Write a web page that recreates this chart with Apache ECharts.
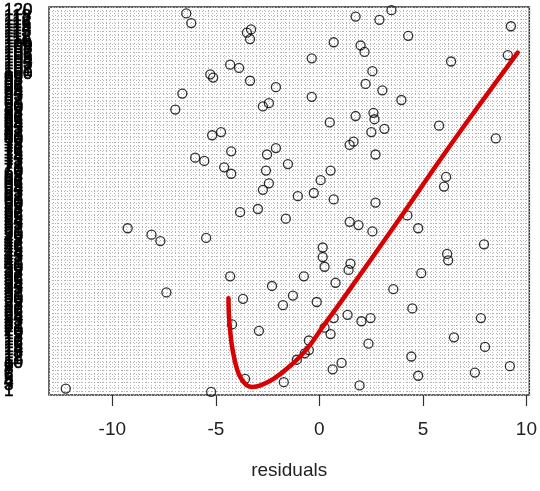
<!DOCTYPE html>
<html>
<head>
<meta charset="utf-8">
<script src="https://cdn.jsdelivr.net/npm/echarts@6/dist/echarts.min.js"></script>
<style>
html,body{margin:0;padding:0;background:#fff;}
#chart{width:540px;height:491px;}
</style>
</head>
<body>
<div id="chart"></div>
<script>
// residual values (x) and observation index (y)
var residuals = [3.48,-6.43,1.75,-6.19,2.90,9.25,-3.30,-3.50,-3.35,4.29,0.69,1.99,2.18,-0.37,9.10,6.36,-4.31,-3.88,-5.27,-5.13,2.56,-3.35,2.23,3.04,-2.10,-6.62,-0.37,-2.44,-2.73,3.96,-6.96,1.75,2.61,2.66,0.50,2.51,3.14,-4.75,-5.18,5.78,8.52,1.46,1.65,-2.10,-4.26,-6.00,-5.56,-2.53,-1.52,2.71,-4.60,-4.26,-2.58,0.54,-2.73,-2.44,0.06,6.12,6.02,-1.04,-0.27,0.69,2.71,-2.97,-3.83,-1.62,4.25,1.46,1.89,-9.26,4.77,2.56,-8.11,-7.68,-5.47,7.95,0.16,0.16,1.50,0.25,1.41,-4.31,-0.75,-2.29,4.92,6.17,6.22,-1.28,-7.39,3.57,-1.76,4.49,-0.13,-4.22,-2.92,1.36,2.47,2.03,0.25,0.54,7.80,6.50,-0.51,-0.71,2.37,-1.09,-0.51,8.00,4.44,1.07,0.64,9.20,-3.59,7.51,-1.72,4.77,1.94,-12.25,-5.23,-3.69,0.69,0.78];
var indexValues = [120,119,118,116,117,115,114,113,111,112,110,109,107,105,106,104,103,102,100,99,101,98,97,95,96,94,93,91,90,92,89,87,88,86,85,82,83,82,81,84,80,78,79,77,76,74,73,75,72,75,71,69,70,70,64,66,67,68,65,62,63,61,60,58,57,55,56,54,53,52,52,51,50,48,49,47,46,43,41,40,39,37,37,34,38,44,42,31,32,33,28,27,29,22,20,25,24,23,21,19,24,18,17,13,16,11,14,15,12,10,8,9,5,7,4,6,3,2,1,30,24,35];
// red smooth curve
var curveX = [-4.39,-4.36,-4.25,-4.09,-3.88,-3.56,-3.24,-2.84,-2.20,-1.39,-0.60,0.21,1.09,3.81,5.74,7.18,9.58];
var curveY = [30.2,23.9,16.5,10.8,6.3,3.3,2.5,3.0,5.1,9.2,14.4,21.7,29.5,54.4,72.5,85.6,106.8];
var xTicks = [-10,-5,0,5,10];
var yLabelValues = [];
for (var i = 1; i <= 120; i++) yLabelValues.push(i);

var pts = residuals.map(function(v, i){ return [v, indexValues[i]]; });
var curve = curveX.map(function(v, i){ return [v, curveY[i]]; });

var gridLine = {show:true, lineStyle:{color:'#b4b4b4', width:1, type:[1,2]}};
var chart = echarts.init(document.getElementById('chart'), null, {renderer:'canvas'});
chart.setOption({
  animation:false,
  backgroundColor:'#fff',
  grid:{left:49, top:7, right:8, bottom:96, show:true, borderColor:'#333', borderWidth:1.5, backgroundColor:'transparent'},
  xAxis:[{
    type:'value', min:-13.06, max:10.14,
    name:'residuals', nameLocation:'middle', nameGap:66,
    nameTextStyle:{fontFamily:'Liberation Sans', fontSize:19, color:'#222'},
    axisLine:{show:false},
    axisTick:{show:true, length:11, customValues:xTicks, lineStyle:{color:'#333', width:1.2}},
    axisLabel:{customValues:xTicks, fontFamily:'Liberation Sans', fontSize:19, color:'#222', margin:25},
    splitLine:{show:false}
  },{
    type:'value', min:0, max:118, interval:1, gridIndex:0,
    axisLine:{show:false}, axisTick:{show:false}, axisLabel:{show:false},
    splitLine:gridLine
  }],
  yAxis:[{
    type:'value', min:0, max:121, interval:1,
    axisLine:{show:false}, axisTick:{show:false},
    axisLabel:{customValues:yLabelValues, align:'left', margin:45, showMaxLabel:true, showMinLabel:true,
      fontFamily:'Liberation Sans', fontSize:17, color:'#000', textBorderColor:'#000', textBorderWidth:0.6,
      formatter:function(v){ return (v>=1 && v<=120) ? String(v) : ''; }},
    splitLine:{show:false}
  },{
    type:'value', min:0, max:95, interval:1, gridIndex:0,
    axisLine:{show:false}, axisTick:{show:false}, axisLabel:{show:false},
    splitLine:gridLine
  }],
  series:[{
    type:'scatter', xAxisIndex:0, yAxisIndex:0, data:pts,
    symbol:'circle', symbolSize:9,
    itemStyle:{color:'rgba(0,0,0,0)', borderColor:'#000', borderWidth:1.3},
    clip:false, z:3
  },{
    type:'line', xAxisIndex:0, yAxisIndex:0, data:curve,
    smooth:0.4, symbol:'none',
    lineStyle:{color:'#d80000', width:4.5, cap:'round'},
    z:4
  }]
});
</script>
</body>
</html>
